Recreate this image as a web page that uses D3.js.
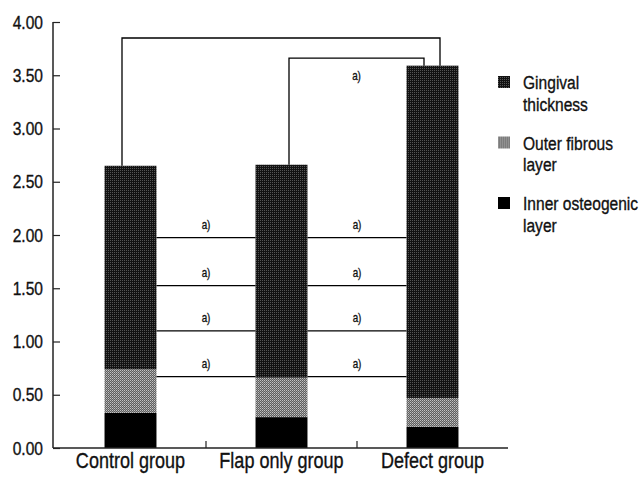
<!DOCTYPE html>
<html>
<head>
<meta charset="utf-8">
<script src="https://cdn.jsdelivr.net/npm/d3@7"></script>
<style>
  html, body { margin: 0; padding: 0; background: #fff; }
  svg { display: block; }
  text { font-family: "Liberation Sans", Arial, sans-serif; fill: #111; stroke: #111; stroke-width: 0.35px; }
</style>
</head>
<body>
<svg id="chart" width="643" height="479"></svg>
<script>
// ---- data ----
const groups = ["Control group", "Flap only group", "Defect group"];
const innerOsteogenic = [0.33, 0.29, 0.20];
const outerFibrous = [0.41, 0.37, 0.27];
const gingivalThickness = [1.91, 2.00, 3.12];
const seriesNames = ["Gingival thickness", "Outer fibrous layer", "Inner osteogenic layer"];
const yTicks = [0, 0.5, 1.0, 1.5, 2.0, 2.5, 3.0, 3.5, 4.0];
// comparison lines between neighbouring groups (value levels), each marked "a)"
const compareLevels = [1.975, 1.525, 1.10, 0.67];
const comparePairs = [[0, 1], [1, 2]];
// top brackets: [from group, to group, level]
const topBrackets = [[0, 2, 3.85], [1, 2, 3.66]];
const sigLabel = "a)";

// ---- layout ----
const svg = d3.select("#chart");
const y = d3.scaleLinear().domain([0, 4]).range([448, 22]);
const x = d3.scaleBand().domain(groups).range([55, 508])
  .paddingInner(0.656).paddingOuter(0.328);
const SX = 0.82; // condensed type

function ctext(parent, tx, ty, str, size, anchor, baseline) {
  const t = parent.append("text")
    .attr("transform", `translate(${tx},${ty}) scale(${SX},1)`)
    .attr("text-anchor", anchor || "start")
    .style("font-size", size + "px")
    .text(str);
  if (baseline) t.attr("dominant-baseline", baseline);
  return t;
}

const defs = svg.append("defs");
const pg = defs.append("pattern").attr("id", "pGing").attr("patternUnits", "userSpaceOnUse")
  .attr("width", 2).attr("height", 2);
pg.append("rect").attr("width", 2).attr("height", 2).attr("fill", "#121212");
pg.append("rect").attr("width", 1).attr("height", 1).attr("fill", "#555");
const po = defs.append("pattern").attr("id", "pOuter").attr("patternUnits", "userSpaceOnUse")
  .attr("width", 2).attr("height", 2);
po.append("rect").attr("width", 2).attr("height", 2).attr("fill", "#5e5e5e");
po.append("rect").attr("width", 1).attr("height", 1).attr("fill", "#c4c4c4");
po.append("rect").attr("x", 1).attr("y", 1).attr("width", 1).attr("height", 1).attr("fill", "#9a9a9a");

const fills = {
  "Inner osteogenic layer": "#000",
  "Outer fibrous layer": "url(#pOuter)",
  "Gingival thickness": "url(#pGing)"
};

const rows = groups.map((g, i) => ({
  group: g,
  "Inner osteogenic layer": innerOsteogenic[i],
  "Outer fibrous layer": outerFibrous[i],
  "Gingival thickness": gingivalThickness[i]
}));
const stack = d3.stack().keys(["Inner osteogenic layer", "Outer fibrous layer", "Gingival thickness"]);
const stacked = stack(rows);

// bars
svg.append("g").selectAll("g").data(stacked).join("g")
  .attr("fill", d => fills[d.key])
  .selectAll("rect").data(d => d).join("rect")
  .attr("x", d => x(d.data.group))
  .attr("width", x.bandwidth())
  .attr("y", d => y(d[1]))
  .attr("height", d => y(d[0]) - y(d[1]));

const total = i => innerOsteogenic[i] + outerFibrous[i] + gingivalThickness[i];
const cx = i => x(groups[i]) + x.bandwidth() / 2;

// comparison lines
const cg = svg.append("g");
comparePairs.forEach(([a, b]) => {
  const x0 = x(groups[a]) + x.bandwidth();
  const x1 = x(groups[b]);
  compareLevels.forEach(v => {
    cg.append("line").attr("x1", x0).attr("x2", x1).attr("y1", y(v)).attr("y2", y(v))
      .attr("stroke", "#000").attr("stroke-width", 1.4);
    ctext(cg, (x0 + x1) / 2, y(v) - 13, sigLabel, 12, "middle", "central");
  });
});

// top brackets
topBrackets.forEach(([a, b, v], k) => {
  const xa = cx(a) + (k === 0 ? -8.5 : 7.5);
  const xb = cx(b) + (k === 0 ? 7.5 : -8.5);
  cg.append("path")
    .attr("d", `M${xa},${y(total(a))}V${y(v)}H${xb}V${y(total(b))}`)
    .attr("fill", "none").attr("stroke", "#000").attr("stroke-width", 1.3);
  if (k === 1) ctext(cg, (xa + xb) / 2, y(v) + 17, sigLabel, 12, "middle", "central");
});

// y axis
const yAxis = svg.append("g").attr("transform", "translate(53,0)")
  .call(d3.axisRight(y).tickValues(yTicks).tickSize(7).tickFormat(""));
yAxis.select(".domain").remove();
yAxis.selectAll("line").attr("stroke", "#222").attr("stroke-width", 1.2);
svg.append("line").attr("x1", 53).attr("x2", 53).attr("y1", y(4)).attr("y2", y(0))
  .attr("stroke", "#222").attr("stroke-width", 1.5);
const yl = svg.append("g");
yTicks.forEach(d => ctext(yl, 43, y(d), d3.format(".2f")(d), 19, "end", "central"));

// x axis
svg.append("line").attr("x1", 53).attr("x2", 508).attr("y1", y(0)).attr("y2", y(0))
  .attr("stroke", "#222").attr("stroke-width", 1.5);
const sep = [1, 2].map(i => x(groups[i]) - x.step() * x.paddingInner() / 2);
svg.append("g").selectAll("line").data(sep).join("line")
  .attr("x1", d => d).attr("x2", d => d).attr("y1", y(0)).attr("y2", y(0) - 7)
  .attr("stroke", "#222").attr("stroke-width", 1.2);
const xl = svg.append("g");
groups.forEach(g => ctext(xl, x(g) + x.bandwidth() / 2, 468, g, 22, "middle"));

// legend
const legendLines = [["Gingival", "thickness"], ["Outer fibrous", "layer"], ["Inner osteogenic", "layer"]];
const legendFill = ["url(#pGing)", "url(#pOuter)", "#000"];
const lg = svg.append("g").selectAll("g").data(seriesNames).join("g")
  .attr("transform", (d, i) => `translate(498,${89 + i * 60.5})`);
lg.append("rect").attr("x", 0).attr("y", -13).attr("width", 12).attr("height", 12)
  .attr("fill", (d, i) => legendFill[i]);
lg.each(function (d, i) {
  const g = d3.select(this);
  legendLines[i].forEach((s, j) => ctext(g, 25, j * 21.5, s, 19, "start"));
});
</script>
</body>
</html>
